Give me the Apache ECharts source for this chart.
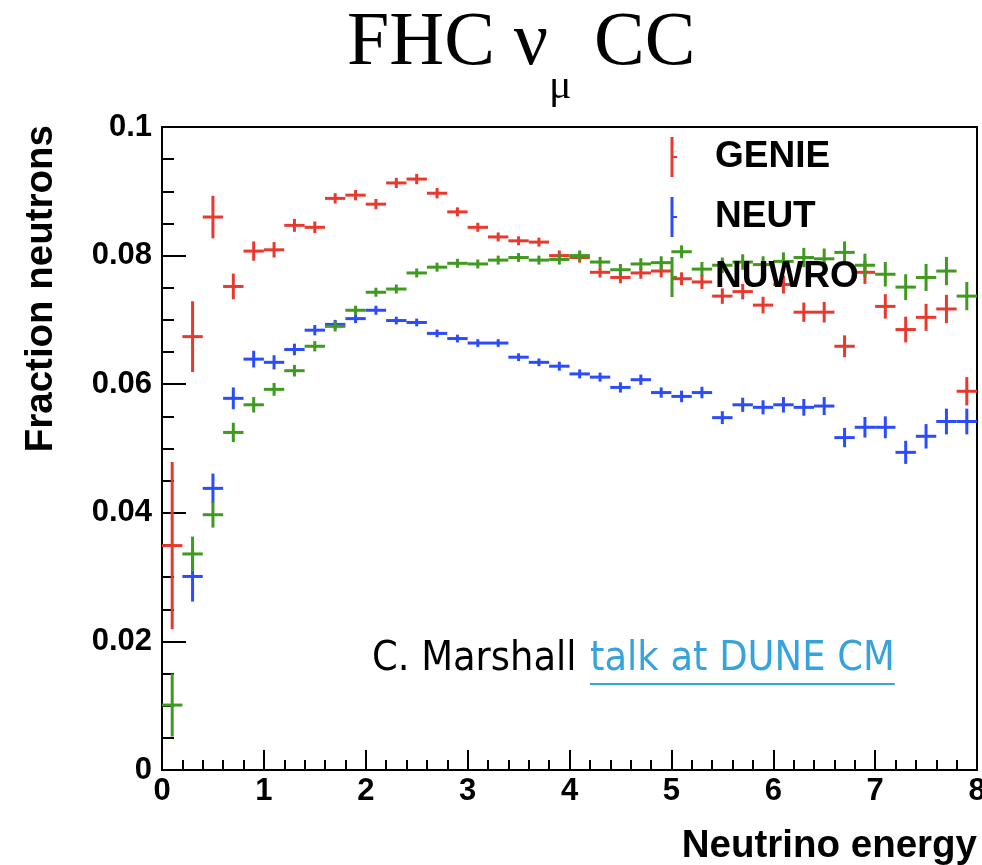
<!DOCTYPE html>
<html>
<head>
<meta charset="utf-8">
<script src="https://cdn.jsdelivr.net/npm/echarts@6/dist/echarts.min.js"></script>
<style>
  html, body { margin: 0; padding: 0; background: #fff; }
  #chart { width: 982px; height: 865px; }
</style>
</head>
<body>
<div id="chart"></div>
<script>
    // bin centres (GeV), bins are 0.2 wide
    var energy = [0.1, 0.3, 0.5, 0.7, 0.9, 1.1, 1.3, 1.5, 1.7, 1.9,
                  2.1, 2.3, 2.5, 2.7, 2.9, 3.1, 3.3, 3.5, 3.7, 3.9,
                  4.1, 4.3, 4.5, 4.7, 4.9, 5.1, 5.3, 5.5, 5.7, 5.9,
                  6.1, 6.3, 6.5, 6.7, 6.9, 7.1, 7.3, 7.5, 7.7, 7.9];
    var binHalf = 0.1;

    var genie = [0.0349, 0.0674, 0.0860, 0.0752, 0.0807, 0.0809, 0.0847, 0.0844, 0.0889, 0.0894,
                 0.0880, 0.0913, 0.0919, 0.0897, 0.0868, 0.0844, 0.0829, 0.0823, 0.0821, 0.0800,
                 0.0797, 0.0774, 0.0766, 0.0773, 0.0776, 0.0764, 0.0759, 0.0737, 0.0744, 0.0723,
                 0.0755, 0.0712, 0.0712, 0.0659, 0.0774, 0.0721, 0.0685, 0.0704, 0.0717, 0.0589];
    var genieErr = [0.0130, 0.0055, 0.0033, 0.0020, 0.0015, 0.0012, 0.0010, 0.0009, 0.0008, 0.0008,
                    0.0008, 0.0008, 0.0008, 0.0008, 0.0007, 0.0007, 0.0007, 0.0007, 0.0007, 0.0008,
                    0.0008, 0.0008, 0.0009, 0.0009, 0.0010, 0.0010, 0.0011, 0.0012, 0.0012, 0.0013,
                    0.0014, 0.0015, 0.0016, 0.0017, 0.0018, 0.0019, 0.0020, 0.0021, 0.0022, 0.0022];

    var neut = [null, 0.0301, 0.0438, 0.0578, 0.0639, 0.0634, 0.0654, 0.0684, 0.0693, 0.0702,
                0.0715, 0.0699, 0.0696, 0.0679, 0.0671, 0.0664, 0.0664, 0.0642, 0.0634, 0.0628,
                0.0616, 0.0611, 0.0595, 0.0607, 0.0587, 0.0581, 0.0587, 0.0548, 0.0568, 0.0564,
                0.0568, 0.0564, 0.0566, 0.0517, 0.0533, 0.0533, 0.0494, 0.0519, 0.0542, 0.0542];
    var neutErr = [0, 0.0039, 0.0023, 0.0017, 0.0013, 0.0011, 0.0009, 0.0008, 0.0007, 0.0007,
                   0.0007, 0.0006, 0.0006, 0.0006, 0.0006, 0.0006, 0.0006, 0.0006, 0.0006, 0.0007,
                   0.0007, 0.0007, 0.0008, 0.0008, 0.0008, 0.0009, 0.0009, 0.0010, 0.0011, 0.0011,
                   0.0012, 0.0013, 0.0014, 0.0015, 0.0016, 0.0017, 0.0018, 0.0019, 0.0020, 0.0020];

    var nuwro = [0.0101, 0.0336, 0.0397, 0.0525, 0.0568, 0.0592, 0.0621, 0.0659, 0.0690, 0.0715,
                 0.0743, 0.0748, 0.0773, 0.0782, 0.0788, 0.0787, 0.0793, 0.0797, 0.0793, 0.0794,
                 0.0800, 0.0790, 0.0778, 0.0787, 0.0789, 0.0806, 0.0779, 0.0785, 0.0790, 0.0786,
                 0.0791, 0.0797, 0.0795, 0.0805, 0.0785, 0.0771, 0.0751, 0.0766, 0.0776, 0.0737];
    var nuwroErr = [0.0049, 0.0027, 0.0020, 0.0015, 0.0012, 0.0010, 0.0009, 0.0008, 0.0008, 0.0007,
                    0.0007, 0.0007, 0.0007, 0.0007, 0.0007, 0.0007, 0.0007, 0.0007, 0.0007, 0.0008,
                    0.0008, 0.0008, 0.0009, 0.0009, 0.0010, 0.0010, 0.0011, 0.0012, 0.0012, 0.0013,
                    0.0014, 0.0015, 0.0016, 0.0017, 0.0018, 0.0019, 0.0020, 0.0021, 0.0022, 0.0022];

    var yTicks = [0, 0.02, 0.04, 0.06, 0.08, 0.1];
    var xTicks = [0, 1, 2, 3, 4, 5, 6, 7, 8];

    var names = ['GENIE', 'NEUT', 'NUWRO'];
    var colors = ['#e8392e', '#2c4cfb', '#3f9a1f'];

    var boldFont = '"Liberation Sans", Arial, Helvetica, sans-serif';

    function rows(vals, errs) {
        var out = [];
        for (var i = 0; i < energy.length; i++) {
            if (vals[i] == null) continue;
            out.push([energy[i], vals[i], errs[i]]);
        }
        return out;
    }

    // ROOT-style "+" : horizontal bin width bar and vertical error bar
    function errBar(color) {
        return function (params, api) {
            var x = api.value(0), y = api.value(1), e = api.value(2);
            var left = api.coord([x - binHalf, y]);
            var right = api.coord([x + binHalf, y]);
            var top = api.coord([x, y + e]);
            var bot = api.coord([x, y - e]);
            var st = {stroke: color, lineWidth: 3};
            return {
                type: 'group',
                children: [
                    {type: 'line', shape: {x1: left[0], y1: left[1], x2: right[0], y2: right[1]}, style: st},
                    {type: 'line', shape: {x1: top[0], y1: top[1], x2: bot[0], y2: bot[1]}, style: st}
                ]
            };
        };
    }

    var chart = echarts.init(document.getElementById('chart'));

    var gLeft = 162, gTop = 127, gRight = 977, gBottom = 770;

    var legendItems = [];
    var legendY = [157, 217, 277];
    for (var k = 0; k < names.length; k++) {
        legendItems.push({
            type: 'line', z: 100,
            shape: {x1: 672, y1: legendY[k] - 20, x2: 672, y2: legendY[k] + 20},
            style: {stroke: colors[k], lineWidth: 3}
        });
        legendItems.push({
            type: 'line', z: 100,
            shape: {x1: 672, y1: legendY[k], x2: 677, y2: legendY[k]},
            style: {stroke: colors[k], lineWidth: 2}
        });
        legendItems.push({
            type: 'text', z: 100, x: 715, y: legendY[k],
            style: {text: names[k], font: 'bold 37px ' + boldFont, fill: '#000', align: 'left', verticalAlign: 'middle'}
        });
    }

    // width of annotation link text, for the underline
    var ctx = document.createElement('canvas').getContext('2d');
    var noteFont = '41px "Liberation Sans Narrow", "DejaVu Sans Condensed", sans-serif';
    ctx.font = noteFont;
    var linkW = ctx.measureText('talk at DUNE CM').width;

    var option = {
        animation: false,
        grid: {
            left: gLeft, top: gTop, width: gRight - gLeft, height: gBottom - gTop,
            outerBoundsMode: 'none', containLabel: false,
            show: true, borderColor: '#000', borderWidth: 2, backgroundColor: '#fff'
        },
        xAxis: {
            type: 'value', min: 0, max: 8, interval: 1,
            axisLine: {onZero: false, lineStyle: {color: '#000', width: 2}},
            axisTick: {inside: true, length: 20, lineStyle: {color: '#000', width: 2}},
            minorTick: {show: true, splitNumber: 5, length: 10, lineStyle: {color: '#000', width: 2}},
            splitLine: {show: false},
            axisLabel: {color: '#000', fontSize: 31, fontWeight: 'bold', fontFamily: boldFont, margin: 6,
                formatter: function (v) { return xTicks.indexOf(v) >= 0 ? String(v) : ''; }}
        },
        yAxis: {
            type: 'value', min: 0, max: 0.1, interval: 0.02,
            axisLine: {onZero: false, lineStyle: {color: '#000', width: 2}},
            axisTick: {inside: true, length: 24, lineStyle: {color: '#000', width: 2}},
            minorTick: {show: true, splitNumber: 4, length: 12, lineStyle: {color: '#000', width: 2}},
            splitLine: {show: false},
            axisLabel: {color: '#000', fontSize: 31, fontWeight: 'bold', fontFamily: boldFont, margin: 10,
                formatter: function (v) {
                    var t = yTicks.find(function (a) { return Math.abs(a - v) < 1e-9; });
                    return t === undefined ? '' : String(t);
                }}
        },
        series: [
            {name: 'NEUT', type: 'custom', renderItem: errBar(colors[1]), data: rows(neut, neutErr), z: 2},
            {name: 'GENIE', type: 'custom', renderItem: errBar(colors[0]), data: rows(genie, genieErr), z: 3},
            {name: 'NUWRO', type: 'custom', renderItem: errBar(colors[2]), data: rows(nuwro, nuwroErr), z: 4}
        ],
        graphic: [
            // title FHC nu_mu CC
            {type: 'text', left: 347, top: 6, style: {text: 'FHC ν', font: '76px "Liberation Serif", "Times New Roman", serif', fill: '#000'}},
            {type: 'text', left: 549, top: 66, style: {text: 'μ', font: '42px "Liberation Serif", "Times New Roman", serif', fill: '#000'}},
            {type: 'text', left: 594, top: 6, style: {text: 'CC', font: '76px "Liberation Serif", "Times New Roman", serif', fill: '#000'}},
            // axis titles
            {type: 'text', x: 41, y: 125, rotation: Math.PI / 2,
                style: {text: 'Fraction neutrons', font: 'bold 38.5px ' + boldFont, fill: '#000', align: 'right', verticalAlign: 'middle'}},
            {type: 'text', x: 977, y: 846,
                style: {text: 'Neutrino energy', font: 'bold 38.5px ' + boldFont, fill: '#000', align: 'right', verticalAlign: 'middle'}},
            // annotation
            {type: 'text', x: 372, y: 659, z: 100,
                style: {text: 'C. Marshall', font: noteFont, fill: '#000', align: 'left', verticalAlign: 'middle'}},
            {type: 'text', x: 590, y: 659, z: 100,
                style: {text: 'talk at DUNE CM', font: noteFont, fill: '#37a3dc', align: 'left', verticalAlign: 'middle'}},
            {type: 'line', z: 100, shape: {x1: 590, y1: 684, x2: 590 + linkW, y2: 684},
                style: {stroke: '#37a3dc', lineWidth: 2}}
        ].concat(legendItems)
    };

    chart.setOption(option);
</script>
</body>
</html>
